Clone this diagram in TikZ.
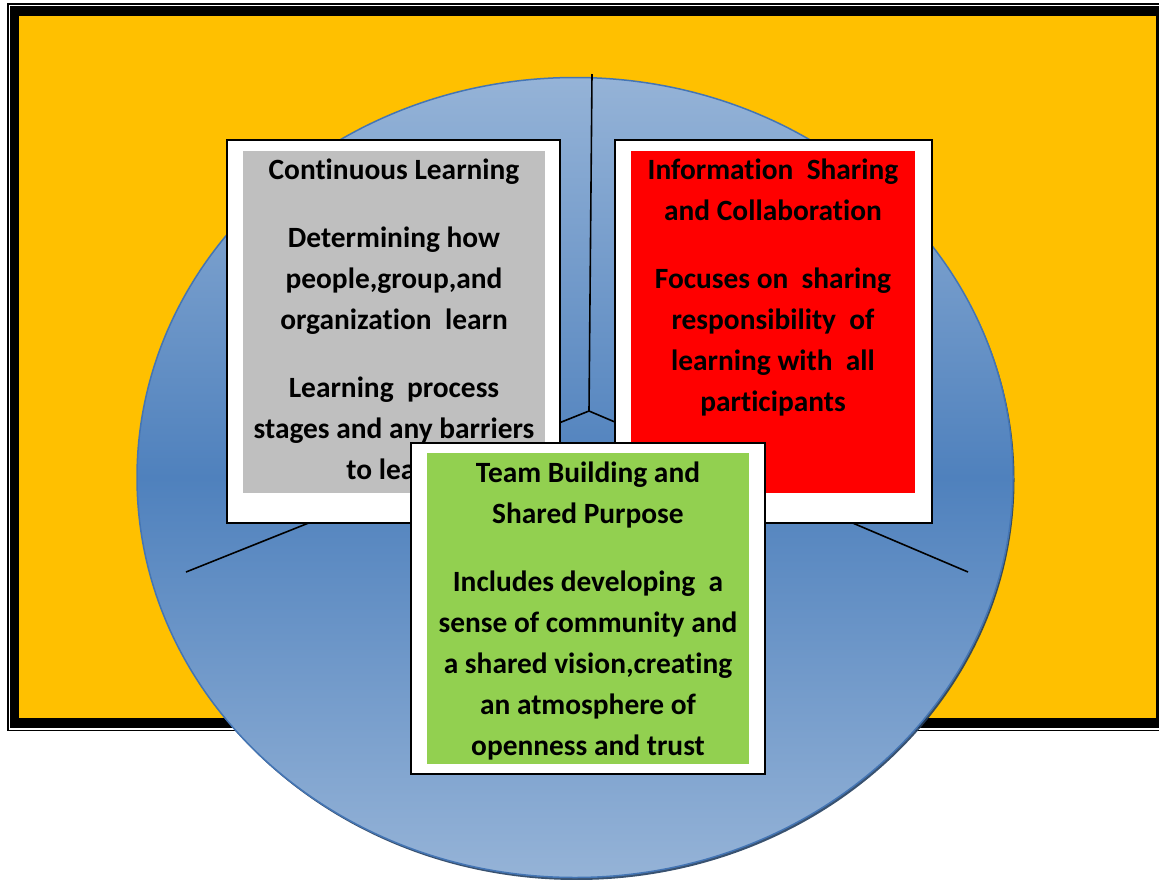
\documentclass[tikz,border=0pt]{standalone}
\usepackage{fontspec}
\setmainfont{Carlito}[Ligatures=NoCommon]
\usepackage{tikz}
\usetikzlibrary{shadows}
\usepackage{xcolor}

\definecolor{frameYellow}{HTML}{FFC000}
\definecolor{discLight}{HTML}{95B3D7}
\definecolor{discDark}{HTML}{4F81BD}
\definecolor{discEdge}{HTML}{4475B4}
\definecolor{discShadow}{HTML}{243F60}
\definecolor{learnGray}{HTML}{BFBFBF}
\definecolor{shareRed}{HTML}{FF0000}
\definecolor{teamGreen}{HTML}{92D050}

\newcommand{\boxfont}{\fontsize{29.4}{41}\selectfont\bfseries}

\begin{document}
\begin{tikzpicture}[x=1pt, y=-1pt,
  outerBox/.style={draw=black, line width=1.6pt, fill=white, inner sep=0pt},
  fillBox/.style={inner sep=0pt},
  boxText/.style={align=center, font=\boxfont, inner sep=0pt, anchor=north},
  spokeLine/.style={line width=1.6pt, black}
]
\useasboundingbox (0,0) rectangle (1159,879);
\clip (0,0) rectangle (1159,879);

% frame
\fill[frameYellow] (19,16) rectangle (1156,718);
\draw[line width=9.6pt] (14.5,11) rectangle (1161,723);
\draw[line width=1.3pt] (8,4) rectangle (1166,730.5);

% disc
\path[draw=discEdge, line width=1.5pt, top color=discLight, bottom color=discLight, middle color=discDark,
  drop shadow={shadow xshift=1.5pt, shadow yshift=-2.5pt, fill=discShadow, opacity=0.9}]
  (575,477.5) ellipse [x radius=438, y radius=400];

% spokes
\coordinate (hub) at (589,411);
\coordinate (topEnd) at (592,74);
\coordinate (leftEnd) at (186,572);
\coordinate (rightEnd) at (968,572);
\foreach \e in {topEnd,leftEnd,rightEnd}
  \draw[spokeLine] (hub) -- (\e);

% continuous learning
\node[outerBox, minimum width=333pt, minimum height=383pt] (learnBox) at (393.5,331.5) {};
\node[fillBox, fill=learnGray, minimum width=302pt, minimum height=342pt] (learnFill) at (394,322) {};
\node[boxText] (learnText) at (394,159) {Continuous Learning\\[27pt]
  Determining how\\people,group,and\\organization\ \ learn\\[27pt]
  Learning\ \ process\\stages and any barriers\\to learn};

% information sharing
\node[outerBox, minimum width=317pt, minimum height=383pt] (shareBox) at (773.5,331.5) {};
\node[fillBox, fill=shareRed, minimum width=284pt, minimum height=342pt] (shareFill) at (773,322) {};
\node[boxText] (shareText) at (773,159) {Information\ \ Sharing\\and Collaboration\\[27pt]
  Focuses on\ \ sharing\\responsibility\ \ of\\learning with\ \ all\\participants};

% team building
\node[outerBox, minimum width=354pt, minimum height=331pt] (teamBox) at (588,608.5) {};
\node[fillBox, fill=teamGreen, minimum width=322pt, minimum height=311pt] (teamFill) at (588,608.5) {};
\node[boxText] (teamText) at (588,462) {Team Building and\\Shared Purpose\\[27pt]
  Includes developing\ \ a\\sense of community and\\a shared vision,creating\\an atmosphere of\\openness and trust};
\end{tikzpicture}
\end{document}
